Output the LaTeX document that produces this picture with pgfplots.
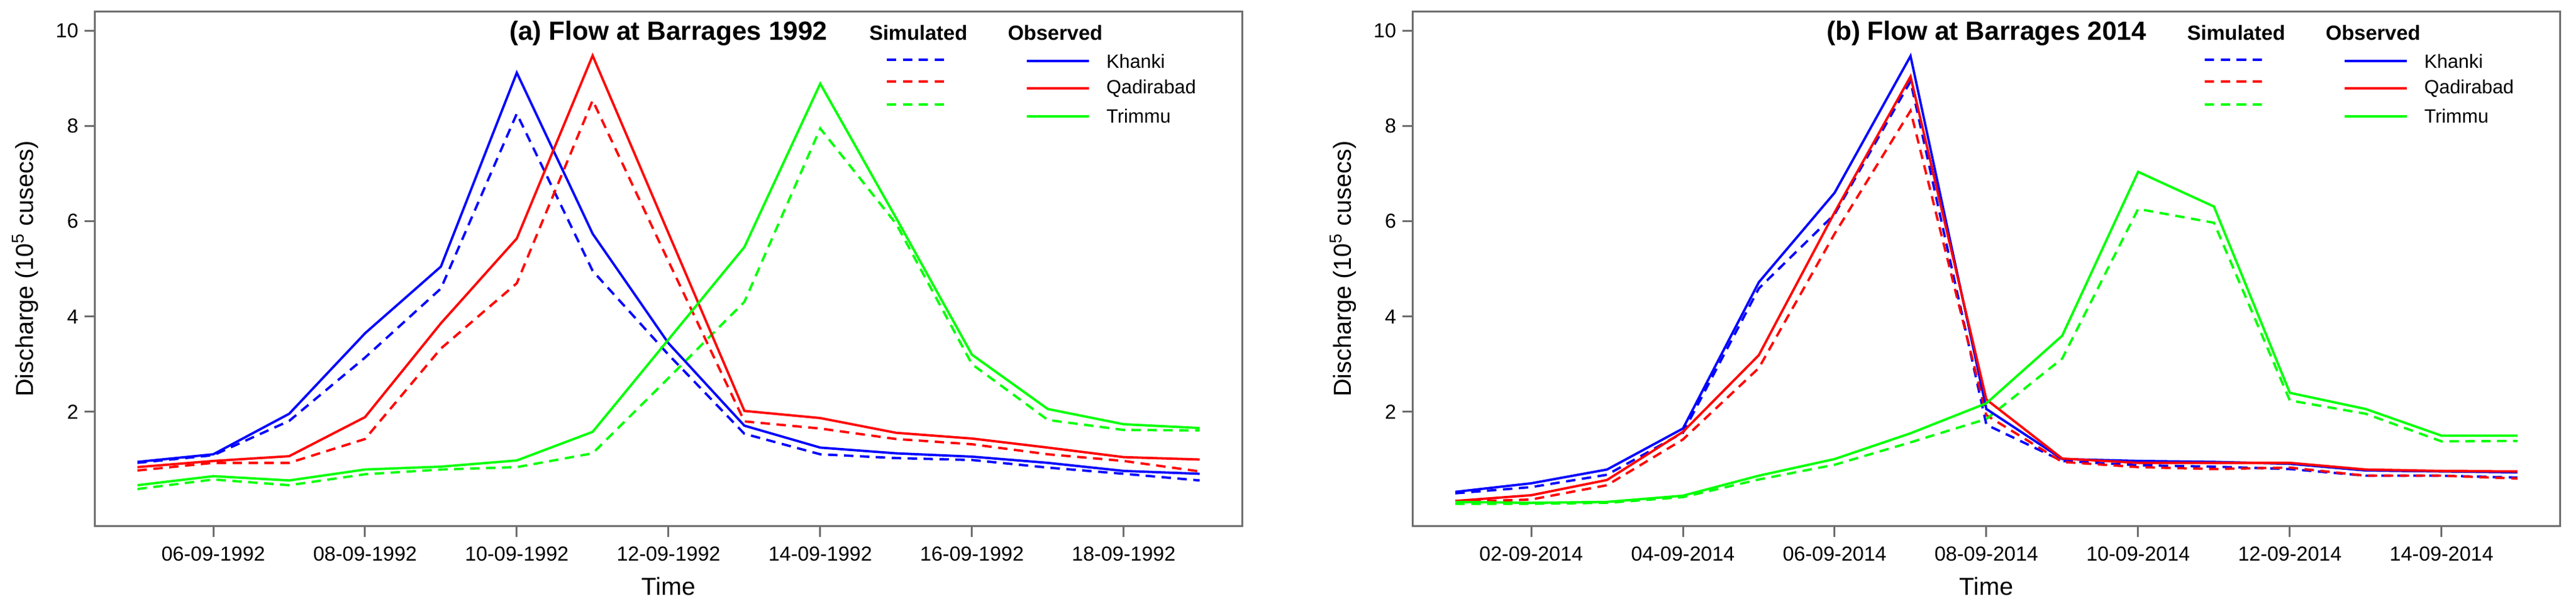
\documentclass[border=0pt]{standalone}
\usepackage{fontspec}
\setmainfont{Liberation Sans}
\usepackage{pgfplots}
\usepackage{pgfplotstable}
\pgfplotsset{compat=1.18}

\definecolor{framegray}{RGB}{110,110,110}
\definecolor{rblue}{RGB}{0,0,255}
\definecolor{rred}{RGB}{255,0,0}
\definecolor{rgreen}{RGB}{0,255,0}

% discharge in 10^5 cusecs, day 0 = first date of the panel
\pgfplotstableread{
day khaobs khasim qadobs qadsim triobs trisim
0  0.95 0.93 0.84 0.77 0.46 0.38
1  1.11 1.09 0.97 0.93 0.65 0.58
2  1.96 1.81 1.07 0.93 0.56 0.46
3  3.65 3.14 1.89 1.43 0.79 0.69
4  5.05 4.59 3.86 3.33 0.85 0.79
5  9.12 8.26 5.64 4.70 0.98 0.84
6  5.74 4.96 9.48 8.54 1.58 1.13
7  3.44 3.20 5.75 5.16 3.52 2.71
8  1.71 1.54 2.02 1.80 5.46 4.31
9  1.25 1.11 1.87 1.65 8.89 7.95
10 1.13 1.03 1.56 1.43 6.07 5.95
11 1.06 0.99 1.44 1.32 3.20 3.00
12 0.93 0.83 1.25 1.11 2.06 1.83
13 0.76 0.70 1.05 0.97 1.74 1.62
14 0.70 0.56 1.00 0.75 1.66 1.61
}\flowA

\pgfplotstableread{
day khaobs khasim qadobs qadsim triobs trisim
0  0.32 0.29 0.13 0.11 0.11 0.07
1  0.50 0.42 0.25 0.16 0.09 0.07
2  0.79 0.68 0.57 0.46 0.11 0.09
3  1.65 1.56 1.58 1.42 0.24 0.21
4  4.72 4.59 3.19 2.92 0.66 0.58
5  6.60 6.15 6.19 5.74 1.01 0.89
6  9.47 8.94 9.04 8.32 1.55 1.36
7  2.06 1.73 2.26 1.93 2.18 1.85
8  1.01 0.97 1.02 0.95 3.60 3.12
9  0.97 0.88 0.93 0.84 7.04 6.26
10 0.95 0.85 0.93 0.80 6.31 5.97
11 0.91 0.80 0.93 0.83 2.40 2.24
12 0.77 0.66 0.79 0.66 2.06 1.96
13 0.75 0.66 0.76 0.66 1.50 1.38
14 0.73 0.62 0.75 0.60 1.50 1.39
}\flowB

\tikzset{
  obs/.style={line width=0.95pt},
  sim/.style={line width=0.95pt, dash pattern=on 3.8pt off 2.6pt},
}

\pgfplotsset{
  barrage/.style={
    scale only axis, width=461.1pt, height=206.7pt,
    xmin=-0.56, xmax=14.56, ymin=-0.4, ymax=10.4,
    axis line style={framegray, line width=0.75pt},
    tick style={framegray, line width=0.75pt},
    tick align=outside, tick pos=left, major tick length=4.25pt,
    xtick={1,3,5,7,9,11,13}, ytick={2,4,6,8,10},
    ticklabel style={font=\fontsize{8.15}{9}\selectfont},
    /pgf/number format/assume math mode=true,
    yticklabel style={anchor=east, inner sep=0pt, xshift=-2.25pt},
    xticklabel style={anchor=north, inner sep=0pt, yshift=-3.75pt},
    xlabel={Time},
    ylabel={Discharge (10\textsuperscript{5} cusecs)},
    every axis x label/.style={at={(axis description cs:0.5,-0.1343)},
      anchor=base, font=\fontsize{9.9}{11}\selectfont},
    every axis y label/.style={at={(axis description cs:-0.0539,0.5)},
      rotate=90, anchor=base, font=\fontsize{9.9}{11}\selectfont},
  },
}

\newcommand\barragelegend[1]{%
  \node[anchor=base, font=\bfseries\fontsize{10.6}{12}\selectfont]
    at (rel axis cs:0.5,0.9443) {#1};
  \node[anchor=base, font=\bfseries\fontsize{8.25}{10}\selectfont]
    at (rel axis cs:0.7178,0.9443) {Simulated};
  \node[anchor=base, font=\bfseries\fontsize{8.25}{10}\selectfont]
    at (rel axis cs:0.8371,0.9443) {Observed};
  \draw[sim, line width=1pt, rblue]  (rel axis cs:0.6904,0.9072) -- (rel axis cs:0.7430,0.9072);
  \draw[sim, line width=1pt, rred]   (rel axis cs:0.6904,0.8645) -- (rel axis cs:0.7430,0.8645);
  \draw[sim, line width=1pt, rgreen] (rel axis cs:0.6904,0.8201) -- (rel axis cs:0.7430,0.8201);
  \draw[line width=1pt, rblue]  (rel axis cs:0.8122,0.9041) -- (rel axis cs:0.8664,0.9041);
  \draw[line width=1pt, rred]   (rel axis cs:0.8122,0.8509) -- (rel axis cs:0.8664,0.8509);
  \draw[line width=1pt, rgreen] (rel axis cs:0.8122,0.7971) -- (rel axis cs:0.8664,0.7971);
  \node[anchor=west, inner sep=0pt, font=\fontsize{7.7}{9}\selectfont]
    at (rel axis cs:0.8814,0.9041) {Khanki};
  \node[anchor=west, inner sep=0pt, font=\fontsize{7.7}{9}\selectfont]
    at (rel axis cs:0.8814,0.8509) {Qadirabad};
  \node[anchor=west, inner sep=0pt, font=\fontsize{7.7}{9}\selectfont]
    at (rel axis cs:0.8814,0.7971) {Trimmu};
}

\begin{document}
\begin{tikzpicture}
\path[use as bounding box] (0,0) rectangle (1035.5pt,245.5pt);

% (a) 1992, 05-09 to 19-09
\begin{axis}[barrage, at={(38.175pt,34.075pt)}, anchor=south west,
  xticklabels={06-09-1992,08-09-1992,10-09-1992,12-09-1992,14-09-1992,16-09-1992,18-09-1992}]
\addplot[sim, rblue]  table[x=day, y=khasim] {\flowA};
\addplot[sim, rred]   table[x=day, y=qadsim] {\flowA};
\addplot[sim, rgreen] table[x=day, y=trisim] {\flowA};
\addplot[obs, rblue]  table[x=day, y=khaobs] {\flowA};
\addplot[obs, rred]   table[x=day, y=qadobs] {\flowA};
\addplot[obs, rgreen] table[x=day, y=triobs] {\flowA};
\barragelegend{(a) Flow at Barrages 1992}
\end{axis}

% (b) 2014, 01-09 to 15-09
\begin{axis}[barrage, at={(567.925pt,34.075pt)}, anchor=south west,
  xticklabels={02-09-2014,04-09-2014,06-09-2014,08-09-2014,10-09-2014,12-09-2014,14-09-2014}]
\addplot[sim, rblue]  table[x=day, y=khasim] {\flowB};
\addplot[sim, rred]   table[x=day, y=qadsim] {\flowB};
\addplot[sim, rgreen] table[x=day, y=trisim] {\flowB};
\addplot[obs, rblue]  table[x=day, y=khaobs] {\flowB};
\addplot[obs, rred]   table[x=day, y=qadobs] {\flowB};
\addplot[obs, rgreen] table[x=day, y=triobs] {\flowB};
\barragelegend{(b) Flow at Barrages 2014}
\end{axis}
\end{tikzpicture}
\end{document}
